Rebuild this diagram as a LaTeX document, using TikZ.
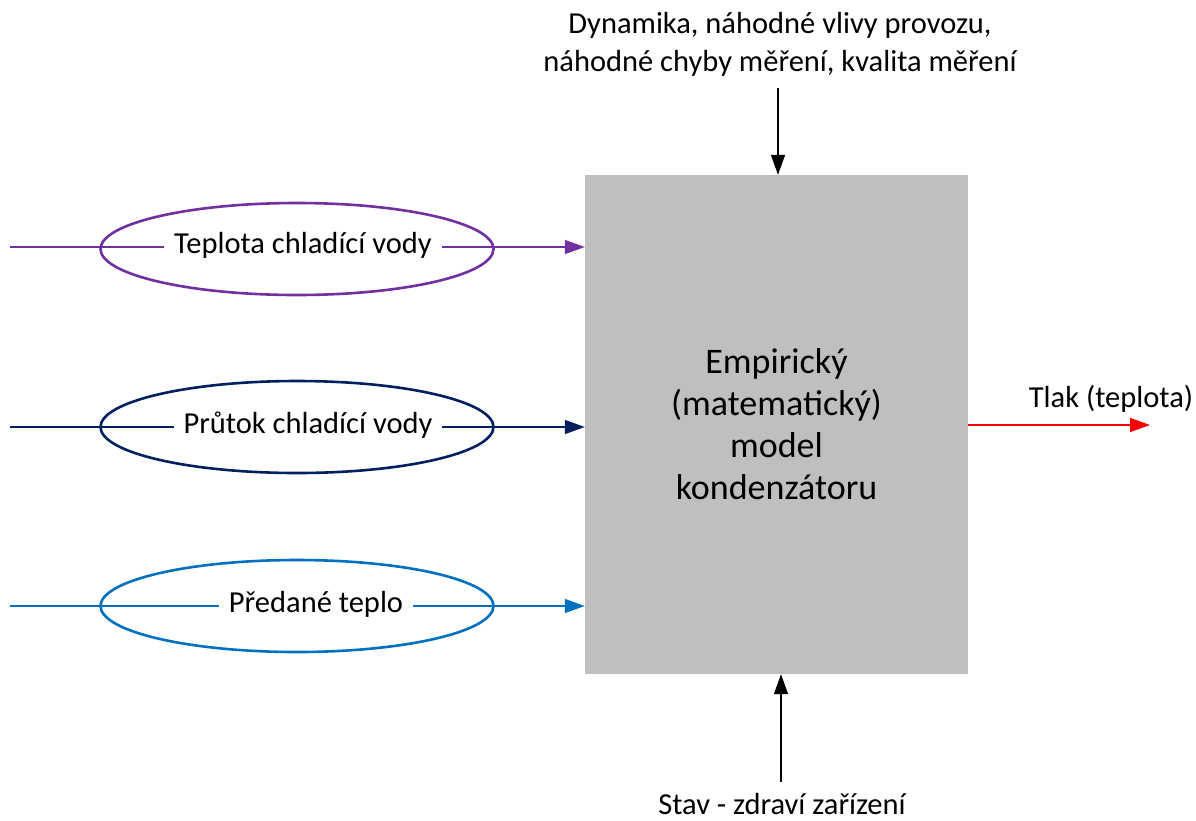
\documentclass[tikz,border=0pt]{standalone}
\usepackage{fontspec}
\setmainfont{Carlito}
\usetikzlibrary{arrows.meta,shapes.geometric}
\definecolor{cpurple}{HTML}{7030A0}
\definecolor{cnavy}{HTML}{002060}
\definecolor{cblue}{HTML}{0070C0}
\definecolor{cgrey}{HTML}{BFBFBF}
\begin{document}
\begin{tikzpicture}[x=1pt,y=-1pt,
  every node/.style={font=\fontsize{30.5}{38}\selectfont},
  oval/.style={ellipse, draw, line width=2.6pt, minimum width=393pt, minimum height=92pt, inner sep=0pt},
  lbl/.style={fill=white, inner xsep=10pt, inner ysep=4pt},
  conn/.style={line width=1.4pt, -{Triangle[length=20pt,width=14pt]}},
  mainbox/.style={fill=cgrey, draw=none, minimum width=383pt, minimum height=499pt, align=center, inner sep=0pt,
     font=\fontsize{36}{42}\selectfont}]
\useasboundingbox (0,0) rectangle (1196,820);
\node[mainbox] (box) at (776.5,424.5) {Empirický\\(matematický)\\model\\kondenzátoru};
% inputs
\coordinate (s1) at (10,247);
\coordinate (s2) at (10,427);
\coordinate (s3) at (10,606);
\node[oval, draw=cpurple] (e1) at (297,249) {};
\node[oval, draw=cnavy] (e2) at (297,427) {};
\node[oval, draw=cblue] (e3) at (297,606) {};
\draw[conn, draw=cpurple, fill=cpurple] (s1) -- (s1 -| box.west);
\draw[conn, draw=cnavy, fill=cnavy] (s2) -- (s2 -| box.west);
\draw[conn, draw=cblue, fill=cblue] (s3) -- (s3 -| box.west);
\node[lbl] (t1) at (303,245) {Teplota chladící vody};
\node[lbl] (t2) at (308,425) {Průtok chladící vody};
\node[lbl] (t3) at (316,604) {Předané teplo};
% top
\node[align=center] (top) at (780,44) {Dynamika, náhodné vlivy provozu,\\náhodné chyby měření, kvalita měření};
\coordinate (ta) at (778,88);
\draw[conn] (ta) -- (ta |- box.north);
% bottom
\node[anchor=base, inner sep=0pt] (bot) at (782,814) {Stav - zdraví zařízení};
\coordinate (ba) at (781,782);
\draw[conn] (ba) -- (ba |- box.south);
% output
\coordinate (oe) at (1150,425);
\draw[conn, draw=red, fill=red] (box.east |- oe) -- (oe);
\node (out) at (1111,399) {Tlak (teplota)};
\end{tikzpicture}
\end{document}
